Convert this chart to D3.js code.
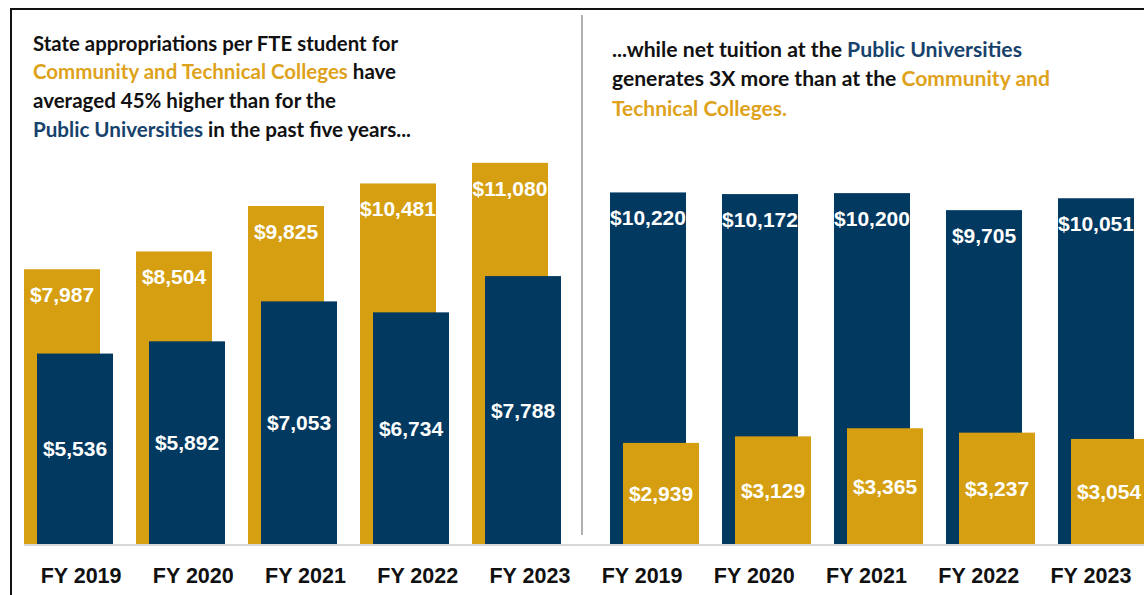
<!DOCTYPE html>
<html>
<head>
<meta charset="utf-8">
<script src="https://cdn.jsdelivr.net/npm/d3@7"></script>
<style>
  body { margin: 0; background: #fff; }
  svg { display: block; }
</style>
</head>
<body>
<div id="chart"></div>
<script>
// data
const years = ['FY 2019', 'FY 2020', 'FY 2021', 'FY 2022', 'FY 2023'];
const approp_ctc = [7987, 8504, 9825, 10481, 11080];
const approp_univ = [5536, 5892, 7053, 6734, 7788];
const tuition_univ = [10220, 10172, 10200, 9705, 10051];
const tuition_ctc = [2939, 3129, 3365, 3237, 3054];

const width = 1144;
const height = 595;
const baseY = 544;
const barW = 76;
const barShift = 13;

const gold = '#D59F11';
const navy = '#023961';
const goldText = '#DEA21B';
const navyText = '#17426C';
const labelFont = 'bold 21px "Liberation Sans", Arial, sans-serif';

const yScale = d3.scaleLinear()
        .domain([0, 12000])
        .range([baseY, baseY - 12000 * 0.0344]);

const xLeft = d3.scaleBand()
        .domain(years)
        .range([24, 24 + 5 * 112]);

const xRight = d3.scaleBand()
        .domain(years)
        .range([610, 610 + 5 * 112]);

// the category labels sit on one evenly spaced row across both panels
const slots = years.map(d => 'L ' + d).concat(years.map(d => 'R ' + d));
const xLabel = d3.scaleBand()
        .domain(slots)
        .range([25, 25 + 10 * 112.2]);

const svg = d3.select('#chart')
    .append('svg')
        .attr('width', width)
        .attr('height', height);

// frame lines
svg.append('line')
    .attr('x1', 10).attr('x2', width)
    .attr('y1', 9).attr('y2', 9)
    .attr('stroke', '#111').attr('stroke-width', 2);
svg.append('line')
    .attr('x1', 11).attr('x2', 11)
    .attr('y1', 8).attr('y2', height)
    .attr('stroke', '#111').attr('stroke-width', 2);

// divider between panels
svg.append('line')
    .attr('x1', 582).attr('x2', 582)
    .attr('y1', 15).attr('y2', 535)
    .attr('stroke', '#b0b0b0').attr('stroke-width', 2);

const drawPanel = (xScale, back, backColor, front, frontColor) => {
    const g = svg.append('g');

    g.selectAll('.back')
        .data(back)
        .join('rect')
            .attr('class', 'back')
            .attr('x', (d, i) => xScale(years[i]))
            .attr('y', d => yScale(d))
            .attr('width', barW)
            .attr('height', d => baseY - yScale(d))
            .attr('fill', backColor);

    g.selectAll('.back-label')
        .data(back)
        .join('text')
            .attr('class', 'back-label')
            .attr('x', (d, i) => xScale(years[i]) + barW / 2)
            .attr('y', d => yScale(d) + 33)
            .attr('text-anchor', 'middle')
            .style('font', labelFont)
            .attr('fill', '#fff')
            .text(d => d3.format('$,')(d));

    g.selectAll('.front')
        .data(front)
        .join('rect')
            .attr('class', 'front')
            .attr('x', (d, i) => xScale(years[i]) + barShift)
            .attr('y', d => yScale(d))
            .attr('width', barW)
            .attr('height', d => baseY - yScale(d))
            .attr('fill', frontColor);

    g.selectAll('.front-label')
        .data(front)
        .join('text')
            .attr('class', 'front-label')
            .attr('x', (d, i) => xScale(years[i]) + barShift + barW / 2)
            .attr('y', d => (yScale(d) + baseY) / 2 + 7.5)
            .attr('text-anchor', 'middle')
            .style('font', labelFont)
            .attr('fill', '#fff')
            .text(d => d3.format('$,')(d));
};

drawPanel(xLeft, approp_ctc, gold, approp_univ, navy);
drawPanel(xRight, tuition_univ, navy, tuition_ctc, gold);

// baseline
svg.append('line')
    .attr('x1', 24).attr('x2', width)
    .attr('y1', baseY + 1).attr('y2', baseY + 1)
    .attr('stroke', '#d9d9d9').attr('stroke-width', 2);

// category labels
svg.selectAll('.cat')
    .data(slots)
    .join('text')
        .attr('class', 'cat')
        .attr('x', d => xLabel(d) + xLabel.bandwidth() / 2)
        .attr('y', 583)
        .attr('text-anchor', 'middle')
        .style('font', 'bold 21.5px "Liberation Sans", Arial, sans-serif')
        .attr('fill', '#111')
        .text(d => d.slice(2));

// headline text blocks
const leftLines = [
    [['State appropriations per FTE student for', '#111']],
    [['Community and Technical Colleges', goldText], [' have', '#111']],
    [['averaged 45% higher than for the', '#111']],
    [['Public Universities', navyText], [' in the past five years...', '#111']]
];
const rightLines = [
    [['...while net tuition at the ', '#111'], ['Public Universities', navyText]],
    [['generates 3X more than at the ', '#111'], ['Community and', goldText]],
    [['Technical Colleges.', goldText]]
];
// line widths as measured on the picture
const leftWidths = [365, 363, 303, 378];
const rightWidths = [410, 438, 175];

const drawBlock = (lines, widths, x, y0, step) => {
    svg.selectAll(null)
        .data(lines)
        .join('text')
            .attr('x', x)
            .attr('y', (d, i) => y0 + i * step)
            .attr('textLength', (d, i) => widths[i])
            .attr('lengthAdjust', 'spacingAndGlyphs')
            .style('font-family', 'Lato, "Open Sans", sans-serif')
            .style('font-weight', 'bold')
            .style('font-size', '20.5px')
        .each(function (d) {
            d3.select(this).selectAll('tspan')
                .data(d)
                .join('tspan')
                    .attr('fill', p => p[1])
                    .text(p => p[0]);
        });
};

drawBlock(leftLines, leftWidths, 33, 50.5, 28.8);
drawBlock(rightLines, rightWidths, 612, 56.5, 29.8);
</script>
</body>
</html>
